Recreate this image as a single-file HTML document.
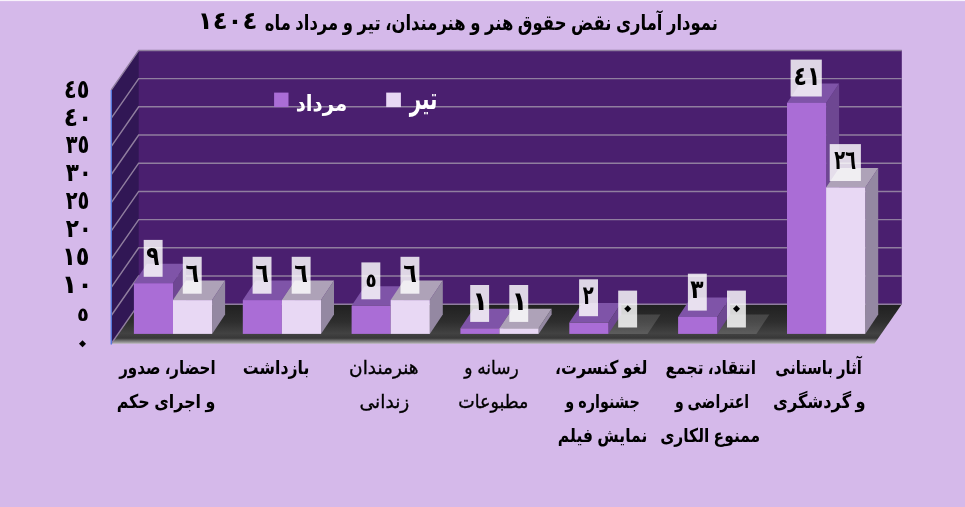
<!DOCTYPE html>
<html lang="fa"><head><meta charset="utf-8"><title>نمودار آماری نقض حقوق هنر و هنرمندان</title>
<style>
html,body{margin:0;padding:0;background:#d5b9ea;}
body{width:965px;height:507px;overflow:hidden;font-family:"Liberation Sans","DejaVu Sans",sans-serif;}
svg{display:block;}
text{font-family:"Liberation Sans","DejaVu Sans",sans-serif;font-weight:bold;fill:#000;text-anchor:start;}
.w{fill:#fff;}
.n{font-weight:normal;stroke:#000;stroke-width:0.35px;}
</style></head><body>
<svg width="965" height="507" viewBox="0 0 965 507" direction="rtl">
<defs>
<linearGradient id="floor" x1="0" y1="0" x2="0" y2="1">
<stop offset="0" stop-color="#202020"/><stop offset="0.45" stop-color="#2e2e2e"/><stop offset="0.74" stop-color="#424242"/><stop offset="0.86" stop-color="#383838"/><stop offset="1" stop-color="#b6b6b6"/>
</linearGradient>
</defs>
<rect width="965" height="507" fill="#d5b9ea"/>
<rect width="965" height="1.1" fill="#f8f2fb"/>
<polygon points="111.3,343.7 139.5,304.2 139.5,50.4 138.7,50.4 111.3,89.9" fill="#311755"/>
<rect x="138.7" y="50.4" width="763.1" height="253.8" fill="#4a1f6f"/>
<polygon points="111.3,343.7 138.7,304.2 901.8,304.2 874.4,343.7" fill="url(#floor)"/>
<path d="M111.3,343.7 L138.7,304.2 L901.8,304.2" fill="none" stroke="#907e9f" stroke-width="1.45"/>
<path d="M111.3,315.5 L138.7,276.0 L901.8,276.0" fill="none" stroke="#907e9f" stroke-width="1.45"/>
<path d="M111.3,287.3 L138.7,247.8 L901.8,247.8" fill="none" stroke="#907e9f" stroke-width="1.45"/>
<path d="M111.3,259.1 L138.7,219.6 L901.8,219.6" fill="none" stroke="#907e9f" stroke-width="1.45"/>
<path d="M111.3,230.9 L138.7,191.4 L901.8,191.4" fill="none" stroke="#907e9f" stroke-width="1.45"/>
<path d="M111.3,202.7 L138.7,163.2 L901.8,163.2" fill="none" stroke="#907e9f" stroke-width="1.45"/>
<path d="M111.3,174.5 L138.7,135.0 L901.8,135.0" fill="none" stroke="#907e9f" stroke-width="1.45"/>
<path d="M111.3,146.3 L138.7,106.8 L901.8,106.8" fill="none" stroke="#907e9f" stroke-width="1.45"/>
<path d="M111.3,118.1 L138.7,78.6 L901.8,78.6" fill="none" stroke="#907e9f" stroke-width="1.45"/>
<path d="M111.3,89.9 L138.7,50.4 L901.8,50.4" fill="none" stroke="#907e9f" stroke-width="1.45"/>
<line x1="111.3" y1="89.9" x2="111.3" y2="344.5" stroke="#5578dc" stroke-width="1.4"/>
<polygon points="173.0,333.9 186.0,314.4 186.0,263.7 173.0,283.2" fill="#6e4792"/>
<polygon points="133.9,283.2 173.0,283.2 186.0,263.7 146.9,263.7" fill="#7f54a8"/>
<rect x="133.9" y="283.2" width="39.1" height="50.7" fill="#aa6dd6"/>
<polygon points="212.1,333.9 225.1,314.4 225.1,280.6 212.1,300.1" fill="#9488a2"/>
<polygon points="173.0,300.1 212.1,300.1 225.1,280.6 186.0,280.6" fill="#aea2b8"/>
<rect x="173.0" y="300.1" width="39.1" height="33.8" fill="#e8d8f4"/>
<polygon points="281.9,333.9 294.9,314.4 294.9,280.6 281.9,300.1" fill="#6e4792"/>
<polygon points="242.8,300.1 281.9,300.1 294.9,280.6 255.8,280.6" fill="#7f54a8"/>
<rect x="242.8" y="300.1" width="39.1" height="33.8" fill="#aa6dd6"/>
<polygon points="321.0,333.9 334.0,314.4 334.0,280.6 321.0,300.1" fill="#9488a2"/>
<polygon points="281.9,300.1 321.0,300.1 334.0,280.6 294.9,280.6" fill="#aea2b8"/>
<rect x="281.9" y="300.1" width="39.1" height="33.8" fill="#e8d8f4"/>
<polygon points="390.7,333.9 403.7,314.4 403.7,286.2 390.7,305.7" fill="#6e4792"/>
<polygon points="351.6,305.7 390.7,305.7 403.7,286.2 364.6,286.2" fill="#7f54a8"/>
<rect x="351.6" y="305.7" width="39.1" height="28.2" fill="#aa6dd6"/>
<polygon points="429.8,333.9 442.8,314.4 442.8,280.6 429.8,300.1" fill="#9488a2"/>
<polygon points="390.7,300.1 429.8,300.1 442.8,280.6 403.7,280.6" fill="#aea2b8"/>
<rect x="390.7" y="300.1" width="39.1" height="33.8" fill="#e8d8f4"/>
<polygon points="499.5,333.9 512.5,314.4 512.5,308.8 499.5,328.3" fill="#6e4792"/>
<polygon points="460.4,328.3 499.5,328.3 512.5,308.8 473.4,308.8" fill="#7f54a8"/>
<rect x="460.4" y="328.3" width="39.1" height="5.6" fill="#aa6dd6"/>
<polygon points="538.6,333.9 551.6,314.4 551.6,308.8 538.6,328.3" fill="#9488a2"/>
<polygon points="499.5,328.3 538.6,328.3 551.6,308.8 512.5,308.8" fill="#aea2b8"/>
<rect x="499.5" y="328.3" width="39.1" height="5.6" fill="#e8d8f4"/>
<polygon points="608.4,333.9 621.4,314.4 621.4,303.1 608.4,322.6" fill="#6e4792"/>
<polygon points="569.3,322.6 608.4,322.6 621.4,303.1 582.3,303.1" fill="#7f54a8"/>
<rect x="569.3" y="322.6" width="39.1" height="11.3" fill="#aa6dd6"/>
<polygon points="608.4,333.9 647.5,333.9 660.5,314.4 621.4,314.4" fill="#ffffff" fill-opacity="0.14"/>
<polygon points="717.2,333.9 730.2,314.4 730.2,297.5 717.2,317.0" fill="#6e4792"/>
<polygon points="678.1,317.0 717.2,317.0 730.2,297.5 691.1,297.5" fill="#7f54a8"/>
<rect x="678.1" y="317.0" width="39.1" height="16.9" fill="#aa6dd6"/>
<polygon points="717.2,333.9 756.4,333.9 769.4,314.4 730.2,314.4" fill="#ffffff" fill-opacity="0.14"/>
<polygon points="826.1,333.9 839.1,314.4 839.1,83.4 826.1,102.9" fill="#6e4792"/>
<polygon points="787.0,102.9 826.1,102.9 839.1,83.4 800.0,83.4" fill="#7f54a8"/>
<rect x="787.0" y="102.9" width="39.1" height="231.0" fill="#aa6dd6"/>
<polygon points="865.2,333.9 878.2,314.4 878.2,167.9 865.2,187.4" fill="#9488a2"/>
<polygon points="826.1,187.4 865.2,187.4 878.2,167.9 839.1,167.9" fill="#aea2b8"/>
<rect x="826.1" y="187.4" width="39.1" height="146.5" fill="#e8d8f4"/>
<rect x="143.7" y="239.9" width="18.9" height="36.9" fill="#ffffff" fill-opacity="0.82"/>
<rect x="182.8" y="256.8" width="18.9" height="36.9" fill="#ffffff" fill-opacity="0.82"/>
<rect x="252.6" y="256.8" width="18.9" height="36.9" fill="#ffffff" fill-opacity="0.82"/>
<rect x="291.7" y="256.8" width="18.9" height="36.9" fill="#ffffff" fill-opacity="0.82"/>
<rect x="361.4" y="262.4" width="18.9" height="36.9" fill="#ffffff" fill-opacity="0.82"/>
<rect x="400.5" y="256.8" width="18.9" height="36.9" fill="#ffffff" fill-opacity="0.82"/>
<rect x="470.2" y="285.0" width="18.9" height="36.9" fill="#ffffff" fill-opacity="0.82"/>
<rect x="509.3" y="285.0" width="18.9" height="36.9" fill="#ffffff" fill-opacity="0.82"/>
<rect x="579.1" y="279.3" width="18.9" height="36.9" fill="#ffffff" fill-opacity="0.82"/>
<rect x="618.2" y="290.6" width="18.9" height="36.9" fill="#ffffff" fill-opacity="0.82"/>
<rect x="687.9" y="273.7" width="18.9" height="36.9" fill="#ffffff" fill-opacity="0.82"/>
<rect x="727.0" y="290.6" width="18.9" height="36.9" fill="#ffffff" fill-opacity="0.82"/>
<rect x="790.6" y="59.6" width="31.2" height="36.9" fill="#ffffff" fill-opacity="0.82"/>
<rect x="829.7" y="144.1" width="31.2" height="36.9" fill="#ffffff" fill-opacity="0.82"/>
<rect x="274.1" y="92.6" width="14.4" height="14.5" fill="#aa6dd6"/>
<rect x="386.2" y="92.6" width="14.7" height="14.5" fill="#e8d8f4"/>
<text transform="translate(717.96,29.8) scale(0.782,1)" font-size="21">نمودار آماری نقض حقوق هنر و هنرمندان، تیر و مرداد ماه</text>
<text transform="translate(257.40,29.4) scale(0.998,1)" font-size="24.5" letter-spacing="6">١٤٠٤</text>
<text transform="translate(347.20,110.6) scale(0.898,1)" font-size="22" class="w">مرداد</text>
<text transform="translate(437.47,108.6) scale(0.637,1)" font-size="31" class="w">تیر</text>
<text transform="translate(83.10,343.70) rotate(45) translate(8.50,8.50)" font-size="29">٠</text>
<text transform="translate(88.90,320.5) scale(1.000,1)" font-size="19.5">٥</text>
<text transform="translate(92.80,292.7) scale(1.000,1)" font-size="25.5">١٠</text>
<text transform="translate(89.56,264.8) scale(0.880,1)" font-size="25.5">١٥</text>
<text transform="translate(92.03,237.0) scale(0.846,1)" font-size="25.5">٢٠</text>
<text transform="translate(89.32,209.1) scale(0.759,1)" font-size="25.5">٢٥</text>
<text transform="translate(92.03,181.2) scale(0.846,1)" font-size="25.5">٣٠</text>
<text transform="translate(89.32,153.4) scale(0.759,1)" font-size="25.5">٣٥</text>
<text transform="translate(92.38,125.5) scale(0.917,1)" font-size="25.5">٤٠</text>
<text transform="translate(89.43,97.7) scale(0.815,1)" font-size="25.5">٤٥</text>
<text transform="translate(215.59,374.3) scale(0.794,1)" font-size="19">احضار، صدور</text>
<text transform="translate(215.34,408.2) scale(0.837,1)" font-size="19">و اجرای حکم</text>
<text transform="translate(309.36,374.3) scale(0.830,1)" font-size="19">بازداشت</text>
<text transform="translate(418.57,374.3) scale(0.974,1)" font-size="19" class="n">هنرمندان</text>
<text transform="translate(409.38,408.2) scale(0.982,1)" font-size="19" class="n">زندانی</text>
<text transform="translate(518.70,374.3) scale(0.897,1)" font-size="19" class="n">رسانه و</text>
<text transform="translate(528.34,408.2) scale(0.919,1)" font-size="19" class="n">مطبوعات</text>
<text transform="translate(647.36,374.3) scale(0.830,1)" font-size="19">لغو کنسرت،</text>
<text transform="translate(639.81,408.2) scale(0.757,1)" font-size="19">جشنواره و</text>
<text transform="translate(647.34,442.1) scale(0.821,1)" font-size="19">نمایش فیلم</text>
<text transform="translate(756.03,374.3) scale(0.815,1)" font-size="19">انتقاد، تجمع</text>
<text transform="translate(749.18,408.2) scale(0.741,1)" font-size="19">اعتراضی و</text>
<text transform="translate(760.22,442.1) scale(0.817,1)" font-size="19">ممنوع الکاری</text>
<text transform="translate(861.80,374.3) scale(0.780,1)" font-size="19">آثار باستانی</text>
<text transform="translate(865.65,408.2) scale(0.853,1)" font-size="19">و گردشگری</text>
<text transform="translate(159.35,264.6) scale(0.827,1)" font-size="26">٩</text>
<text transform="translate(199.11,281.5) scale(0.857,1)" font-size="26">٦</text>
<text transform="translate(268.86,281.5) scale(0.857,1)" font-size="26">٦</text>
<text transform="translate(307.96,281.5) scale(0.857,1)" font-size="26">٦</text>
<text transform="translate(376.79,286.8) scale(0.940,1)" font-size="19.5">٥</text>
<text transform="translate(416.81,281.5) scale(0.857,1)" font-size="26">٦</text>
<text transform="translate(488.20,309.7) scale(1.000,1)" font-size="26">١</text>
<text transform="translate(527.30,309.7) scale(1.000,1)" font-size="26">١</text>
<text transform="translate(593.75,304.0) scale(0.693,1)" font-size="26">٢</text>
<text transform="translate(628.25,308.85) rotate(45) translate(8.50,8.50)" font-size="29">٠</text>
<text transform="translate(703.70,298.4) scale(0.840,1)" font-size="26">٣</text>
<text transform="translate(737.10,308.85) rotate(45) translate(8.50,8.50)" font-size="29">٠</text>
<text transform="translate(820.41,84.5) scale(0.832,1)" font-size="26.5">٤١</text>
<text transform="translate(856.02,169.0) scale(0.671,1)" font-size="26.5">٢٦</text>
</svg>
</body></html>
